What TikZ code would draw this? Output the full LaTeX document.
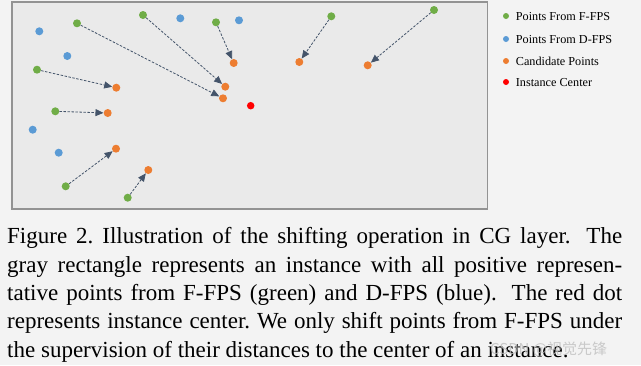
\documentclass[tikz,border=0pt]{standalone}
\usepackage{fontspec}
\setmainfont{Liberation Serif}
\newfontfamily\cjkfont{Noto Sans CJK SC}
\usetikzlibrary{arrows.meta}
\definecolor{ffpscolor}{RGB}{112,173,71}
\definecolor{dfpscolor}{RGB}{91,155,213}
\definecolor{candcolor}{RGB}{237,125,49}
\definecolor{ctrcolor}{RGB}{255,0,0}
\definecolor{shiftcolor}{RGB}{68,84,106}
\definecolor{instcolor}{RGB}{234,234,234}
\definecolor{papercolor}{RGB}{243,243,243}

\begin{document}
\begin{tikzpicture}[
    x=1pt, y=-1pt,
    font=\fontsize{12.2}{14}\selectfont,
    point/.style={circle, inner sep=0pt, minimum size=8pt},
    ffps/.style={point, fill=ffpscolor},
    dfps/.style={point, fill=dfpscolor},
    cand/.style={point, fill=candcolor},
    instctr/.style={point, fill=ctrcolor, minimum size=7.5pt},
    legenddot/.style={circle, inner sep=0pt, minimum size=6pt},
    legendtext/.style={anchor=base west, inner sep=0pt},
    shiftarrow/.style={-{Triangle[length=8pt, width=7pt]}, dash pattern=on 2.5pt off 1.5pt, shiftcolor, line width=0.8pt}
]

% Page and instance box
\useasboundingbox (0,0) rectangle (641,365);
\fill[papercolor] (0,0) rectangle (641,365);
\draw[fill=instcolor, draw=gray!85, line width=1.5pt] (12,2) rectangle (487.5,209);

% Points from D-FPS
\foreach \i/\x/\y in {1/39.3/31.3, 2/67.3/56, 3/180.3/18.3, 4/239/20.3, 5/32.7/129.7, 6/58.7/152.7} {
    \node[dfps] (b\i) at (\x,\y) {};
}

% Points from F-FPS shifted to candidate points
\foreach \i/\gx/\gy/\cx/\cy in {1/77/23.3/223/98.3, 2/143/15/225.3/86.7, 3/216/22.3/233.7/63,
        4/331.3/16.3/299.3/62, 5/434/10/367.7/65.3, 6/37/69.7/116.3/87.7,
        7/55.3/111.3/107.7/113, 8/65.7/186.3/116/148.7, 9/127.7/197.7/148.3/170} {
    \node[ffps] (g\i) at (\gx,\gy) {};
    \node[cand] (c\i) at (\cx,\cy) {};
    \draw[shiftarrow] (g\i) -- (c\i);
}

% Instance center
\node[instctr] (ctr) at (250.7,105.7) {};

% Legend
\foreach \n/\y/\c/\t in {1/16/ffpscolor/Points From F-FPS, 2/39/dfpscolor/Points From D-FPS,
        3/61/candcolor/Candidate Points, 4/82/ctrcolor/Instance Center} {
    \node[legenddot, fill=\c] (ld\n) at (506,\y) {};
    \node[legendtext] (lt\n) at (515.7,\y+4.6) {\t};
}

% Caption
\node[anchor=north west, inner sep=0pt, text width=615pt, align=justify,
      font=\fontsize{23}{28.35}\selectfont\frenchspacing] (caption) at (7,227.5)
    {Figure 2. Illustration of the shifting operation in CG layer.\hspace{0.3em} The\linebreak
     gray rectangle represents an instance with all positive represen-\linebreak
     tative points from F-FPS (green) and D-FPS (blue).\hspace{0.3em} The red dot\linebreak
     represents instance center. We only shift points from F-FPS under\linebreak
     the supervision of their distances to the center of an instance.};

% Watermark
\node[anchor=base west, inner sep=0pt, text=gray!50, opacity=0.8,
      font=\cjkfont\fontsize{15}{15}\selectfont] (mark) at (490,354) {CSDN @视觉先锋};

\end{tikzpicture}
\end{document}
